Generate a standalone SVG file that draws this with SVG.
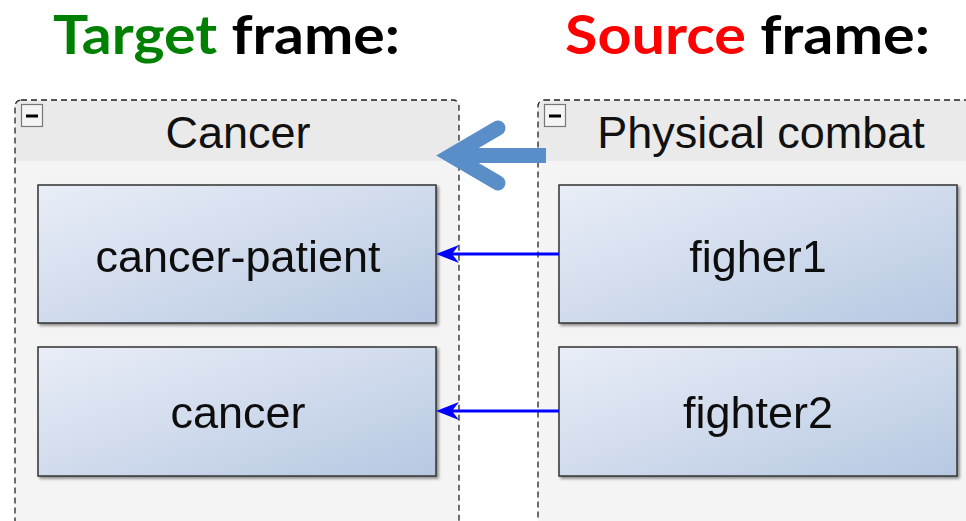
<svg xmlns="http://www.w3.org/2000/svg" width="966" height="521" viewBox="0 0 966 521">
  <defs>
    <linearGradient id="nodeFill" x1="0" y1="0" x2="1" y2="1">
      <stop offset="0" stop-color="#e9eef7"/>
      <stop offset="1" stop-color="#b7c8e2"/>
    </linearGradient>
    <filter id="shadow" x="-5%" y="-5%" width="115%" height="120%">
      <feGaussianBlur in="SourceAlpha" stdDeviation="1.5"/>
      <feOffset dx="2" dy="2" result="b"/>
      <feComponentTransfer><feFuncA type="linear" slope="0.45"/></feComponentTransfer>
      <feMerge><feMergeNode/><feMergeNode in="SourceGraphic"/></feMerge>
    </filter>
  </defs>
  <style>
    .title { font-family: Lato, "Liberation Sans", sans-serif; font-weight: bold; font-size: 54px; }
    .frame-body { fill: #f4f4f4; }
    .frame-head { fill: #eaeaea; }
    .frame-border { fill: none; stroke: #222; stroke-width: 1.3; stroke-dasharray: 6 4; }
    .toggle { fill: #f4f4f4; stroke: #777; stroke-width: 1.2; }
    .toggle-bar { stroke: #000; stroke-width: 3; }
    .head-label { font-family: "Liberation Sans", Arial, sans-serif; font-size: 45px; fill: #111; text-anchor: middle; }
    .node rect { fill: url(#nodeFill); stroke: #333; stroke-width: 1.5; }
    .node text { font-family: "Liberation Sans", Arial, sans-serif; font-size: 45px; fill: #111; text-anchor: middle; }
    .map-line { stroke: #0000ff; stroke-width: 3; }
    .map-head { fill: #0000ff; }
    .big-arrow { stroke: #5a8ec8; fill: none; stroke-width: 15; }
  </style>

  <!-- headings -->
  <text class="title" x="53" y="54" textLength="347" lengthAdjust="spacingAndGlyphs"><tspan fill="#008000">Target</tspan><tspan fill="#000"> frame:</tspan></text>
  <text class="title" x="565" y="54" textLength="365" lengthAdjust="spacingAndGlyphs"><tspan fill="#ff0000">Source</tspan><tspan fill="#000"> frame:</tspan></text>

  <!-- target frame container -->
  <g id="frame-cancer">
    <rect class="frame-body" x="15" y="100" width="444" height="440" rx="6"/>
    <path class="frame-head" d="M21,100 H453 A6,6 0 0 1 459,106 V161 H15 V106 A6,6 0 0 1 21,100 Z"/>
    <rect class="frame-border" x="15" y="100" width="444" height="440" rx="6"/>
    <rect class="toggle" x="21.5" y="104.5" width="21" height="22"/>
    <line class="toggle-bar" x1="26" y1="116" x2="38" y2="116"/>
    <text class="head-label" x="238" y="148">Cancer</text>
  </g>

  <!-- source frame container -->
  <g id="frame-combat">
    <rect class="frame-body" x="538" y="100" width="446" height="440" rx="6"/>
    <path class="frame-head" d="M544,100 H978 A6,6 0 0 1 984,106 V161 H538 V106 A6,6 0 0 1 544,100 Z"/>
    <rect class="frame-border" x="538" y="100" width="446" height="440" rx="6"/>
    <rect class="toggle" x="544.5" y="104.5" width="21" height="22"/>
    <line class="toggle-bar" x1="549" y1="116" x2="561" y2="116"/>
    <text class="head-label" x="761" y="148">Physical combat</text>
  </g>

  <!-- roles -->
  <g id="node-cancer-patient" class="node" filter="url(#shadow)">
    <rect x="38" y="185" width="398" height="138"/>
    <text x="238" y="272">cancer-patient</text>
  </g>
  <g id="node-cancer" class="node" filter="url(#shadow)">
    <rect x="38" y="347" width="398" height="129"/>
    <text x="238" y="428">cancer</text>
  </g>
  <g id="node-figher1" class="node" filter="url(#shadow)">
    <rect x="559" y="185" width="398" height="138"/>
    <text x="758" y="272">figher1</text>
  </g>
  <g id="node-fighter2" class="node" filter="url(#shadow)">
    <rect x="559" y="347" width="398" height="129"/>
    <text x="758" y="428">fighter2</text>
  </g>

  <!-- connectors -->
  <g id="connectors">
    <path class="big-arrow" d="M546,155.5 H458"/>
    <path class="big-arrow" d="M498,128 L451,155.5 L498,183" stroke-linecap="round" stroke-linejoin="miter" stroke-miterlimit="10"/>
    <line class="map-line" x1="559" y1="254" x2="452" y2="254"/>
    <path class="map-head" d="M436,254 L459,245 L452,254 L459,263 Z"/>
    <line class="map-line" x1="559" y1="411" x2="452" y2="411"/>
    <path class="map-head" d="M436,411 L459,402 L452,411 L459,420 Z"/>
  </g>
</svg>
